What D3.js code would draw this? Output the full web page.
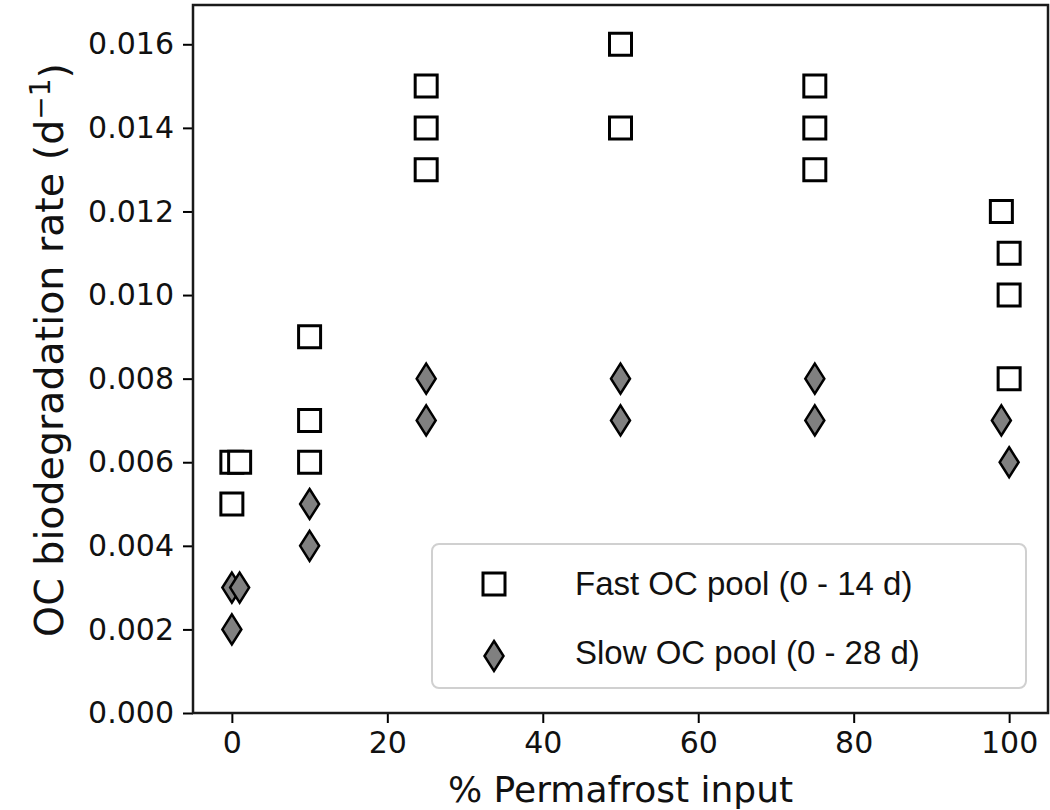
<!DOCTYPE html>
<html><head><meta charset="utf-8">
<script src="https://cdn.jsdelivr.net/npm/d3@7"></script>
<style>body{margin:0;background:#fff;} svg{display:block;}</style>
</head><body>
<svg id="chart" width="1050" height="810"></svg>
<script>
// Data
const fastX = [0, 0, 1, 10, 10, 10, 25, 25, 25, 50, 50, 75, 75, 75, 99, 100, 100, 100];
const fastY = [0.006, 0.005, 0.006, 0.009, 0.007, 0.006, 0.015, 0.014, 0.013, 0.016, 0.014, 0.015, 0.014, 0.013, 0.012, 0.011, 0.010, 0.008];
const slowX = [0, 0, 1, 10, 10, 25, 25, 50, 50, 75, 75, 99, 100];
const slowY = [0.003, 0.002, 0.003, 0.005, 0.004, 0.008, 0.007, 0.008, 0.007, 0.008, 0.007, 0.007, 0.006];
const xTicks = [0, 20, 40, 60, 80, 100];
const yTicks = [0.000, 0.002, 0.004, 0.006, 0.008, 0.010, 0.012, 0.014, 0.016];
const seriesNames = ["Fast OC pool (0 - 14 d)", "Slow OC pool (0 - 28 d)"];

const svg = d3.select("#chart");
const L = 193, R = 1048, T = 5, B = 713;
const x = d3.scaleLinear().domain([-5, 105]).range([L, R]);
const y = d3.scaleLinear().domain([0, 0.01694]).range([B, T]);

const tickFont = "'DejaVu Sans', sans-serif";

// markers
const sq = (s) => `M${-s/2},${-s/2}H${s/2}V${s/2}H${-s/2}Z`;
const dia = (w, h) => `M0,${-h}L${w},0L0,${h}L${-w},0Z`;

const fast = fastX.map((v, i) => ({x: v, y: fastY[i]}));
const slow = slowX.map((v, i) => ({x: v, y: slowY[i]}));

svg.append("g").selectAll("path").data(fast).join("path")
  .attr("d", sq(22))
  .attr("transform", d => `translate(${x(d.x)},${y(d.y)})`)
  .attr("fill", "#fff").attr("stroke", "#000").attr("stroke-width", 3);

svg.append("g").selectAll("path").data(slow).join("path")
  .attr("d", dia(9.5, 15))
  .attr("transform", d => `translate(${x(d.x)},${y(d.y)})`)
  .attr("fill", "#808080").attr("stroke", "#000").attr("stroke-width", 2.5).attr("stroke-linejoin", "miter");

// axes
const xAxis = d3.axisBottom(x).tickValues(xTicks).tickSize(10).tickPadding(9).tickFormat(d3.format("d"));
const yAxis = d3.axisLeft(y).tickValues(yTicks).tickSize(10).tickPadding(9).tickFormat(d3.format(".3f"));

const gx = svg.append("g").attr("transform", `translate(0,${B})`).call(xAxis);
const gy = svg.append("g").attr("transform", `translate(${L},0)`).call(yAxis);
[gx, gy].forEach(g => {
  g.select(".domain").remove();
  g.selectAll(".tick line").attr("stroke", "#000").attr("stroke-width", 2);
  g.selectAll(".tick text").attr("fill", "#111").style("font-family", tickFont).style("font-size", "30px");
});
gx.selectAll(".tick text").attr("dy", "0.71em");

// frame
svg.append("rect").attr("x", L).attr("y", T).attr("width", R - L).attr("height", B - T)
  .attr("fill", "none").attr("stroke", "#1a1a1a").attr("stroke-width", 2.5);

// axis titles
svg.append("text").attr("x", (L + R) / 2).attr("y", 802).attr("text-anchor", "middle")
  .style("font-family", tickFont).style("font-size", "36px").attr("fill", "#111")
  .text("% Permafrost input");

const yt = svg.append("text").attr("transform", `translate(63,350) rotate(-90)`).attr("text-anchor", "middle")
  .style("font-family", tickFont).style("font-size", "39.5px").attr("fill", "#111");
yt.append("tspan").text("OC biodegradation rate (d");
yt.append("tspan").attr("dy", "-0.45em").style("font-size", "28px").text("\u22121");
yt.append("tspan").attr("dy", "0.45em").text(")");

// legend
const lg = svg.append("g");
lg.append("rect").attr("x", 432).attr("y", 544).attr("width", 594).attr("height", 144).attr("rx", 7)
  .attr("fill", "#fff").attr("fill-opacity", 0.9).attr("stroke", "#d0d0d0").attr("stroke-width", 2);
lg.append("path").attr("d", sq(22)).attr("transform", "translate(494,584)")
  .attr("fill", "#fff").attr("stroke", "#000").attr("stroke-width", 3);
lg.append("path").attr("d", dia(9.5, 15)).attr("transform", "translate(494,656)")
  .attr("fill", "#808080").attr("stroke", "#000").attr("stroke-width", 2.5);
lg.selectAll("text.lab").data(seriesNames).join("text").attr("class", "lab")
  .attr("x", 575).attr("y", (d, i) => [595, 664][i])
  .style("font-family", "'Liberation Sans', Arial, sans-serif").style("font-size", "33px").attr("fill", "#111")
  .text(d => d);
</script>
</body></html>
